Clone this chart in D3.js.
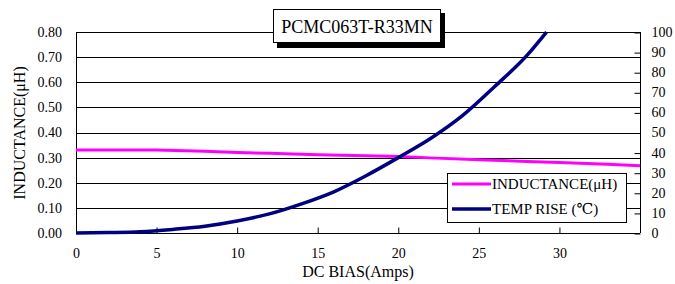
<!DOCTYPE html>
<html>
<head>
<meta charset="utf-8">
<script src="https://d3js.org/d3.v7.min.js"></script>
<style>
  body { margin: 0; background: #fff; }
  svg text { font-family: "Liberation Serif", "DejaVu Serif", serif; fill: #000; }
</style>
</head>
<body>
<svg id="chart" width="675" height="284"></svg>
<script>
// Chart data
const title = "PCMC063T-R33MN";
const xTicks = [0, 5, 10, 15, 20, 25, 30];
const leftTicks = [0, 0.1, 0.2, 0.3, 0.4, 0.5, 0.6, 0.7, 0.8];
const rightTicks = [0, 10, 20, 30, 40, 50, 60, 70, 80, 90, 100];

const inductAmps = [0, 5, 8, 10, 12, 15, 18, 20, 22, 25, 28, 30, 33, 35];
const inductValues = [0.33, 0.33, 0.325, 0.32, 0.317, 0.311, 0.307, 0.304, 0.299, 0.292, 0.285, 0.281, 0.274, 0.268];

const tempAmps = [0, 2, 4, 6, 8, 10, 12, 14, 16, 18, 20, 22, 24, 26, 28, 29.2];
const tempValues = [0, 0.2, 0.6, 1.8, 3.4, 6, 9.5, 14.5, 20.5, 28.5, 37.5, 47, 58.5, 73, 88.5, 100];

const svg = d3.select("#chart");

const plotLeft = 76, plotRight = 640, plotTop = 32, plotBottom = 233;

const x = d3.scaleLinear().domain([0, 35]).range([plotLeft, plotRight]);
const yL = d3.scaleLinear().domain([0, 0.8]).range([plotBottom, plotTop]);
const yR = d3.scaleLinear().domain([0, 100]).range([plotBottom, plotTop]);

// Grid lines
svg.append("g")
  .selectAll("line")
  .data(leftTicks)
  .join("line")
    .attr("x1", plotLeft).attr("x2", plotRight)
    .attr("y1", d => Math.round(yL(d)) + 0.5)
    .attr("y2", d => Math.round(yL(d)) + 0.5)
    .attr("stroke", "#000").attr("stroke-width", 1);

// Frame sides
svg.append("line").attr("x1", plotLeft + 0.5).attr("x2", plotLeft + 0.5).attr("y1", plotTop).attr("y2", plotBottom)
  .attr("stroke", "#000");
svg.append("line").attr("x1", plotRight + 0.5).attr("x2", plotRight + 0.5).attr("y1", plotTop).attr("y2", plotBottom)
  .attr("stroke", "#000");

// Left axis labels
svg.append("g")
  .attr("transform", "translate(" + plotLeft + ",0)")
  .call(d3.axisLeft(yL).tickValues(leftTicks).tickFormat(d3.format(".2f")).tickSize(0).tickPadding(14))
  .call(g => g.select(".domain").remove())
  .selectAll("text").style("font-size", "14px");

// Right axis with inside ticks
svg.append("g")
  .attr("transform", "translate(" + (plotRight + 0.5) + ",0)")
  .call(d3.axisRight(yR).tickValues(rightTicks).tickSizeInner(-6).tickSizeOuter(0).tickPadding(11))
  .call(g => g.select(".domain").remove())
  .call(g => g.selectAll("line").attr("transform", "translate(0,0.5)"))
  .selectAll("text").style("font-size", "14px").attr("text-anchor", "start");

// Bottom axis with inside ticks
svg.append("g")
  .attr("transform", "translate(0," + (plotBottom + 0.5) + ")")
  .call(d3.axisBottom(x).tickValues(xTicks).tickSizeInner(-6).tickSizeOuter(0).tickPadding(15))
  .call(g => g.select(".domain").remove())
  .selectAll("text").style("font-size", "14px");

// Lines
const inductLine = d3.line().x((d, i) => x(inductAmps[i])).y(d => yL(d));
const tempLine = d3.line().x((d, i) => x(tempAmps[i])).y(d => yR(d)).curve(d3.curveMonotoneX);

svg.append("path").datum(inductValues)
  .attr("d", inductLine)
  .attr("fill", "none").attr("stroke", "#ff00ff").attr("stroke-width", 3);

svg.append("path").datum(tempValues)
  .attr("d", tempLine)
  .attr("fill", "none").attr("stroke", "#000080").attr("stroke-width", 3.5);

// Title box with shadow
svg.append("rect").attr("x", 277).attr("y", 13).attr("width", 168).attr("height", 35).attr("fill", "#000");
svg.append("rect").attr("x", 273.5).attr("y", 9.5).attr("width", 167).attr("height", 33)
  .attr("fill", "#fff").attr("stroke", "#000");
svg.append("text").attr("x", 357).attr("y", 32.5).attr("text-anchor", "middle")
  .style("font-size", "18px").text(title);

// Legend
const legend = svg.append("g");
legend.append("rect").attr("x", 447.5).attr("y", 173.5).attr("width", 179).attr("height", 49)
  .attr("fill", "#fff").attr("stroke", "#000");
const legendItems = [
  { label: "INDUCTANCE(\u03bcH)", color: "#ff00ff", w: 3, y: 184 },
  { label: "TEMP RISE (\u2103)", color: "#000080", w: 3.5, y: 209 }
];
legendItems.forEach(d => {
  legend.append("line").attr("x1", 452).attr("x2", 491).attr("y1", d.y).attr("y2", d.y)
    .attr("stroke", d.color).attr("stroke-width", d.w);
  legend.append("text").attr("x", 492).attr("y", d.y + 5).style("font-size", "15px").text(d.label);
});

// Axis titles
svg.append("text").attr("x", 358).attr("y", 277).attr("text-anchor", "middle")
  .style("font-size", "16px").text("DC BIAS(Amps)");
svg.append("text").attr("transform", "translate(25,133) rotate(-90)").attr("text-anchor", "middle")
  .style("font-size", "16px").text("INDUCTANCE(\u03bcH)");
</script>
</body>
</html>
